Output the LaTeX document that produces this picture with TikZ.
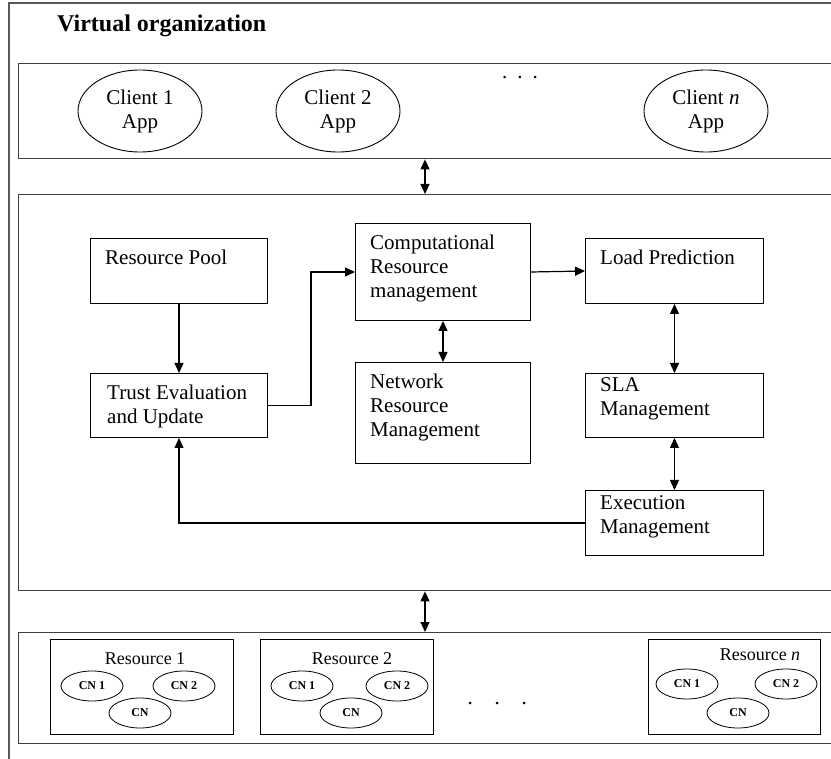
\documentclass[tikz,border=0pt]{standalone}
\usepackage{fontspec}
\setmainfont{Liberation Serif}
\usetikzlibrary{shapes.geometric,arrows.meta,calc}

\begin{document}
\begin{tikzpicture}[x=1pt,y=-1pt,
  frame/.style={draw=black!65, line width=1.3pt},
  panel/.style={draw=black!75, line width=1.4pt, rectangle, inner sep=0pt, anchor=north west},
  box/.style={draw, line width=1pt, rectangle, inner sep=0pt, anchor=north west},
  boxtext/.style={anchor=north west, inner sep=0pt, align=left, font=\fontsize{21}{24}\selectfont},
  client/.style={draw, ellipse, line width=0.9pt, minimum width=124pt, minimum height=82pt,
    inner sep=0pt, align=center, font=\fontsize{21}{24}\selectfont},
  cn/.style={draw, ellipse, line width=0.8pt, minimum width=62pt, minimum height=30pt,
    inner sep=0pt, font=\bfseries\fontsize{12}{14}\selectfont},
  restitle/.style={inner sep=0pt, font=\fontsize{18}{20}\selectfont},
  dot/.style={circle, fill, inner sep=0pt, minimum size=3pt},
  tip/.tip={Triangle[length=10pt,width=9pt]},
  link/.style={line width=1.2pt, -tip},
  dlink/.style={line width=1.2pt, tip-tip},
]
\useasboundingbox (0,0) rectangle (831,759);

% outer frame (runs past the page on the right and bottom)
\draw[frame] (9,775) -- (9,3) -- (845,3);
\node[font=\bfseries\fontsize{24}{28}\selectfont, anchor=base west, inner sep=0pt] (title) at (57,32) {Virtual organization};

% three horizontal panels
\node[panel, minimum width=830pt, minimum height=95pt] (clients) at (18,63) {};
\node[panel, minimum width=830pt, minimum height=396pt] (core) at (18,194) {};
\node[panel, minimum width=830pt, minimum height=111pt] (resources) at (18,632) {};

% client applications
\node[client] (c1) at (140,111) {Client 1\\App};
\node[client] (c2) at (338,111) {Client 2\\App};
\node[client] (cn) at (706,111) {Client \textit{n}\\App};
\node[font=\fontsize{21}{24}\selectfont, inner sep=0pt] (cdots) at (520,78) {.\hspace{10pt}.\hspace{10pt}.};

% management modules
\node[box, minimum width=177pt, minimum height=65pt] (rp) at (90,238) {};
\node[box, minimum width=177pt, minimum height=64pt] (te) at (90,373) {};
\node[box, minimum width=175pt, minimum height=97pt] (crm) at (355,223) {};
\node[box, minimum width=175pt, minimum height=101pt] (nrm) at (355,362) {};
\node[box, minimum width=178pt, minimum height=65pt] (lp) at (585,238) {};
\node[box, minimum width=178pt, minimum height=64pt] (sla) at (585,373) {};
\node[box, minimum width=178pt, minimum height=65pt] (em) at (585,490) {};

\node[boxtext] (rpt) at ($(rp.north west)+(15,12)$) {Resource Pool};
\node[boxtext] (tet) at ($(te.north west)+(17,12)$) {Trust Evaluation\\and Update};
\node[boxtext] (crmt) at ($(crm.north west)+(15,12)$) {Computational\\Resource\\management};
\node[boxtext] (nrmt) at ($(nrm.north west)+(15,12)$) {Network\\Resource\\Management};
\node[boxtext] (lpt) at ($(lp.north west)+(15,12)$) {Load Prediction};
\node[boxtext] (slat) at ($(sla.north west)+(15,4)$) {SLA\\Management};
\node[boxtext] (emt) at ($(em.north west)+(15,5)$) {Execution\\Management};

% connectors between modules
\draw[link] (rp) -- (te);
\draw[link] (te.east) -- ++(43,0) |- (crm.west);
\draw[link] (crm.east) -- (lp.west);
\draw[dlink] (crm) -- (nrm);
\draw[dlink] (lp) -- (sla);
\draw[dlink] (sla) -- (em);
\draw[link] (em.west) -| (te.south);

% links between the panels
\coordinate (ax) at (425,0);
\draw[dlink] (clients.south -| ax) -- (core.north -| ax);
\draw[dlink] (core.south -| ax) -- (resources.north -| ax);

% resources and their compute nodes
\node[box, minimum width=183pt, minimum height=95pt] (r1) at (50,639) {};
\node[box, minimum width=173pt, minimum height=95pt] (r2) at (260,639) {};
\node[box, minimum width=172pt, minimum height=95pt] (rn) at (648,639) {};

\node[restitle] (r1t) at (145,659) {Resource 1};
\node[restitle] (r2t) at (352,659) {Resource 2};
\node[restitle] (rnt) at (760,655) {Resource \textit{n}};

\node[cn] (r1a) at (92,686) {CN 1};
\node[cn] (r1b) at (184,686) {CN 2};
\node[cn] (r1c) at (140,713) {CN};
\node[cn] (r2a) at (302,686) {CN 1};
\node[cn] (r2b) at (397,686) {CN 2};
\node[cn] (r2c) at (351,713) {CN};
\node[cn] (rna) at (687,684) {CN 1};
\node[cn] (rnb) at (786,684) {CN 2};
\node[cn] (rnc) at (738,713) {CN};

\node[dot] (rd1) at (470,703) {};
\node[dot] (rd2) at (497,703) {};
\node[dot] (rd3) at (524,703) {};
\end{tikzpicture}
\end{document}
